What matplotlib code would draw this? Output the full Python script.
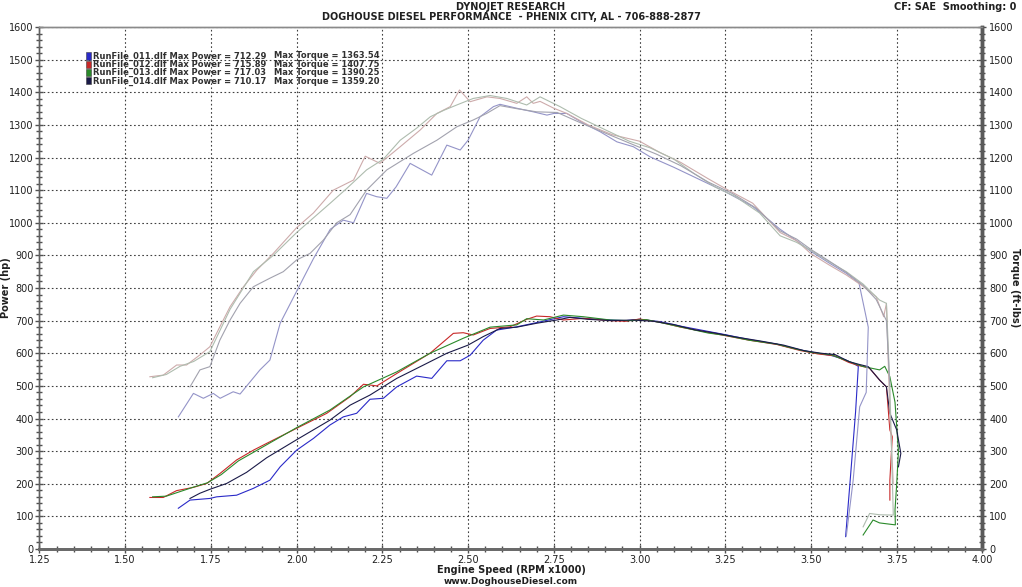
import numpy as np
import matplotlib
matplotlib.use('Agg')
import matplotlib.pyplot as plt
from matplotlib.ticker import MultipleLocator
from matplotlib.patches import Rectangle

plt.rcParams['font.family'] = ['DejaVu Sans']

# ---------------- data ----------------
runs = ['RunFile_011.dlf', 'RunFile_012.dlf', 'RunFile_013.dlf', 'RunFile_014.dlf']
max_power = ['712.29', '715.89', '717.03', '710.17']
max_torque = ['1363.54', '1407.75', '1390.25', '1359.20']

p011_rpm = [1.655, 1.689, 1.747, 1.767, 1.825, 1.874, 1.922, 1.952, 2.0, 2.049, 2.097, 2.136, 2.175, 2.214,
            2.253, 2.292, 2.35, 2.394, 2.438, 2.477, 2.506, 2.544, 2.583, 2.642, 2.70, 2.778, 2.836, 2.90,
            2.96, 3.0, 3.06, 3.12, 3.18, 3.25, 3.32, 3.40, 3.47, 3.52, 3.56, 3.60, 3.625, 3.638, 3.630,
            3.615, 3.601]
p011 = [125, 150, 155, 160, 165, 186, 211, 252, 303, 339, 380, 405, 416, 459, 462, 497, 530, 523, 577, 577,
        594, 640, 671, 681, 694, 712, 707, 703, 700, 704, 697, 683, 671, 657, 642, 628, 610, 600, 593, 580,
        568, 560, 420, 220, 38]
t011_rpm = [1.655, 1.699, 1.728, 1.757, 1.777, 1.815, 1.835, 1.893, 1.922, 1.952, 2.0, 2.049, 2.098, 2.136,
            2.166, 2.204, 2.233, 2.263, 2.29, 2.331, 2.394, 2.438, 2.477, 2.5, 2.535, 2.574, 2.593, 2.642,
            2.69, 2.73, 2.75, 2.788, 2.836, 2.885, 2.934, 2.982, 3.031, 3.1, 3.18, 3.25, 3.33, 3.41, 3.458,
            3.5, 3.554, 3.603, 3.64, 3.667, 3.661, 3.642, 3.623, 3.603]
t011 = [405, 477, 462, 477, 462, 482, 475, 549, 579, 692, 790, 890, 980, 1008, 1000, 1090, 1080, 1075, 1110,
        1182, 1146, 1238, 1223, 1253, 1325, 1356, 1363, 1351, 1340, 1330, 1335, 1335, 1305, 1279, 1248, 1233,
        1202, 1170, 1130, 1095, 1050, 980, 945, 912, 876, 845, 815, 680, 480, 436, 211, 40]

p012_rpm = [1.572, 1.611, 1.65, 1.699, 1.738, 1.777, 1.825, 1.874, 1.913, 2.0, 2.088, 2.156, 2.195, 2.234,
            2.292, 2.389, 2.457, 2.486, 2.515, 2.564, 2.622, 2.671, 2.70, 2.739, 2.778, 2.836, 2.914, 2.96,
            3.0, 3.06, 3.12, 3.18, 3.25, 3.32, 3.40, 3.47, 3.52, 3.57, 3.61, 3.64, 3.67, 3.70, 3.72, 3.73,
            3.737, 3.73, 3.73]
p012 = [158, 158, 179, 189, 201, 232, 273, 303, 324, 370, 416, 467, 505, 500, 538, 600, 661, 663, 656, 676,
        681, 704, 714, 712, 702, 707, 700, 698, 705, 695, 680, 668, 654, 640, 627, 608, 598, 592, 572, 562,
        555, 518, 497, 365, 344, 211, 150]
t012_rpm = [1.572, 1.611, 1.65, 1.679, 1.718, 1.747, 1.776, 1.806, 1.845, 1.884, 1.932, 2.0, 2.049, 2.107,
            2.166, 2.2, 2.243, 2.302, 2.36, 2.409, 2.448, 2.475, 2.506, 2.555, 2.593, 2.642, 2.671, 2.69,
            2.71, 2.75, 2.788, 2.85, 2.92, 3.0, 3.06, 3.12, 3.2, 3.25, 3.33, 3.41, 3.458, 3.5, 3.554, 3.603,
            3.652, 3.69, 3.712, 3.72, 3.73, 3.74]
t012 = [528, 533, 564, 564, 595, 620, 681, 743, 804, 855, 906, 985, 1030, 1100, 1131, 1204, 1182, 1233, 1284,
        1335, 1356, 1407, 1371, 1386, 1381, 1366, 1386, 1366, 1372, 1351, 1335, 1300, 1270, 1250, 1215, 1185,
        1135, 1105, 1060, 970, 945, 905, 870, 840, 805, 773, 712, 753, 416, 200]

p013_rpm = [1.58, 1.62, 1.66, 1.70, 1.74, 1.78, 1.83, 1.88, 1.93, 2.0, 2.097, 2.195, 2.292, 2.389, 2.486,
            2.564, 2.642, 2.671, 2.72, 2.778, 2.836, 2.914, 2.97, 3.02, 3.08, 3.14, 3.2, 3.25, 3.32, 3.40,
            3.46, 3.5, 3.56, 3.61, 3.65, 3.70, 3.715, 3.73, 3.745, 3.755, 3.75, 3.745, 3.746, 3.70, 3.681,
            3.652]
p013 = [160, 162, 176, 190, 203, 228, 270, 300, 330, 372, 426, 497, 543, 600, 646, 680, 687, 706, 702, 717,
        712, 702, 700, 703, 690, 676, 662, 655, 640, 628, 612, 603, 595, 575, 560, 549, 560, 528, 450, 300,
        200, 120, 74, 80, 89, 43]
t013_rpm = [1.58, 1.62, 1.66, 1.70, 1.747, 1.806, 1.874, 1.932, 2.0, 2.049, 2.098, 2.146, 2.204, 2.253,
            2.302, 2.35, 2.39, 2.43, 2.467, 2.515, 2.564, 2.613, 2.671, 2.71, 2.768, 2.83, 2.9, 2.97, 3.03,
            3.1, 3.16, 3.22, 3.28, 3.35, 3.41, 3.458, 3.5, 3.554, 3.603, 3.652, 3.70, 3.72, 3.73, 3.74, 3.70,
            3.671, 3.652]
t013 = [525, 535, 560, 575, 605, 735, 850, 900, 970, 1015, 1060, 1105, 1162, 1195, 1253, 1290, 1325, 1345,
        1361, 1381, 1390, 1381, 1361, 1386, 1356, 1320, 1285, 1250, 1230, 1195, 1150, 1110, 1080, 1030, 960,
        940, 915, 880, 850, 812, 763, 753, 500, 104, 105, 109, 68]

p014_rpm = [1.689, 1.718, 1.747, 1.796, 1.854, 1.913, 2.0, 2.097, 2.156, 2.214, 2.292, 2.37, 2.438, 2.5,
            2.544, 2.593, 2.642, 2.7, 2.759, 2.797, 2.85, 2.92, 2.98, 3.04, 3.1, 3.16, 3.22, 3.28, 3.35,
            3.42, 3.48, 3.53, 3.57, 3.612, 3.64, 3.667, 3.70, 3.72, 3.73, 3.75, 3.762, 3.755]
p014 = [155, 171, 183, 201, 235, 280, 335, 395, 441, 472, 523, 564, 600, 625, 651, 676, 680, 692, 702, 710,
        704, 700, 702, 698, 688, 672, 662, 650, 638, 625, 608, 600, 596, 574, 566, 559, 518, 497, 416, 365,
        293, 252]
t014_rpm = [1.689, 1.718, 1.747, 1.776, 1.806, 1.835, 1.874, 1.922, 1.961, 2.0, 2.039, 2.078, 2.117, 2.156,
            2.204, 2.263, 2.341, 2.409, 2.467, 2.515, 2.554, 2.593, 2.64, 2.7, 2.76, 2.82, 2.9, 2.98, 3.05,
            3.12, 3.2, 3.27, 3.34, 3.41, 3.458, 3.5, 3.554, 3.603, 3.652, 3.69, 3.72, 3.73]
t014 = [497, 549, 559, 640, 702, 753, 804, 830, 850, 886, 906, 947, 1000, 1025, 1100, 1162, 1213, 1253, 1294,
        1315, 1335, 1359, 1350, 1340, 1338, 1310, 1275, 1240, 1210, 1175, 1125, 1090, 1045, 975, 950, 918,
        882, 848, 808, 765, 700, 500]

power_colors = ['#2a2ac8', '#c82828', '#2a8a2a', '#1a1a48']
torque_colors = ['#9494c8', '#cdabab', '#aebcae', '#a2a2ae']

# ---------------- figure ----------------
fig = plt.figure(figsize=(10.22, 5.87), dpi=100)
ax = fig.add_axes([0.0386, 0.0647, 0.9227, 0.8893])
ax2 = ax.twinx()

for rpm, vals, c in zip([p011_rpm, p012_rpm, p013_rpm, p014_rpm], [p011, p012, p013, p014], power_colors):
    ax.plot(rpm, vals, color=c, lw=0.8)
for rpm, vals, c in zip([t011_rpm, t012_rpm, t013_rpm, t014_rpm], [t011, t012, t013, t014], torque_colors):
    ax2.plot(rpm, vals, color=c, lw=0.8)

for a in (ax, ax2):
    a.set_xlim(1.25, 4.0)
    a.set_ylim(0, 1600)
    a.yaxis.set_major_locator(MultipleLocator(100))
    a.yaxis.set_minor_locator(MultipleLocator(20))
ax.xaxis.set_major_locator(MultipleLocator(0.25))
ax.xaxis.set_minor_locator(MultipleLocator(0.05))
ax.xaxis.set_major_formatter(matplotlib.ticker.FormatStrFormatter('%.2f'))

ax.grid(True, which='major', color='#404040', ls=(0, (1.5, 2.2)), lw=0.8)
ax.set_axisbelow(True)

ax.tick_params(axis='both', which='major', direction='inout', length=6, width=1, labelsize=7, colors='#505050',
               labelcolor='#202020', pad=1)
ax.tick_params(axis='both', which='minor', direction='inout', length=4, width=1, colors='#505050')
ax2.tick_params(axis='y', which='major', direction='inout', length=6, width=1, labelsize=7, colors='#505050',
                labelcolor='#202020', pad=2)
ax2.tick_params(axis='y', which='minor', direction='inout', length=4, width=1, colors='#505050')

for a in (ax, ax2):
    a.spines['top'].set_color('#8a8a8a')
    a.spines['top'].set_linewidth(1.0)
    a.spines['left'].set_color('#606060')
    a.spines['left'].set_linewidth(1.0)
    a.spines['bottom'].set_color('#6a6a6a')
    a.spines['bottom'].set_linewidth(2.0)
    a.spines['right'].set_color('#5a5a5a')
    a.spines['right'].set_linewidth(2.5)

ax.set_xlabel('Engine Speed (RPM x1000)', fontsize=7, fontweight='bold', color='#202020', labelpad=0)

# axis titles placed at the page edges like the dyno printout
fig.text(6 / 1022, 1 - 288 / 587, 'Power (hp)', rotation=90, ha='center', va='center', fontsize=7,
         fontweight='bold', color='#202020')
fig.text(1 - 7 / 1022, 1 - 288 / 587, 'Torque (ft-lbs)', rotation=270, ha='center', va='center', fontsize=7,
         fontweight='bold', color='#202020')

fig.text(0.5, 1 - 7 / 587, 'DYNOJET RESEARCH', ha='center', va='center', fontsize=7, fontweight='bold',
         color='#202020')
fig.text(0.5, 1 - 17.5 / 587, 'DOGHOUSE DIESEL PERFORMANCE  - PHENIX CITY, AL - 706-888-2877', ha='center',
         va='center', fontsize=7, fontweight='bold', color='#202020')
fig.text(1 - 6 / 1022, 1 - 7 / 587, 'CF: SAE  Smoothing: 0', ha='right', va='center', fontsize=7,
         fontweight='bold', color='#202020')
fig.text(0.5, 1 - 582 / 587, 'www.DoghouseDiesel.com', ha='center', va='center', fontsize=6.5,
         fontweight='bold', color='#202020')

# legend block
row_y = [56, 64.3, 72.7, 81]
for i in range(4):
    yf = 1 - row_y[i] / 587
    fig.patches.append(Rectangle((86 / 1022, yf - 3.5 / 587), 5 / 1022, 7 / 587, transform=fig.transFigure,
                                 facecolor=power_colors[i], edgecolor='#404040', lw=0.4))
    fig.text(93 / 1022, yf, runs[i] + ' Max Power = ' + max_power[i], ha='left', va='center', fontsize=6,
             fontweight='bold', color='#303030')
    fig.text(274 / 1022, yf, 'Max Torque = ' + max_torque[i], ha='left', va='center', fontsize=6,
             fontweight='bold', color='#303030')

fig.savefig('out.png', dpi=100, facecolor='white')
